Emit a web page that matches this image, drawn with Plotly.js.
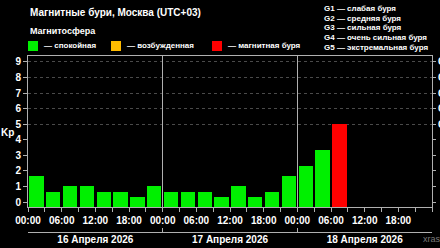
<!DOCTYPE html>
<html><head><meta charset="utf-8">
<script src="https://cdn.plot.ly/plotly-3.0.1.min.js"></script>
<style>html,body{margin:0;padding:0;background:#000;}#chart{width:440px;height:248px;}</style>
</head><body><div id="chart"></div>
<script>
// ---- data ----
const barTimes = [
  '2026-04-16 01:30','2026-04-16 04:30','2026-04-16 07:30','2026-04-16 10:30',
  '2026-04-16 13:30','2026-04-16 16:30','2026-04-16 19:30','2026-04-16 22:30',
  '2026-04-17 01:30','2026-04-17 04:30','2026-04-17 07:30','2026-04-17 10:30',
  '2026-04-17 13:30','2026-04-17 16:30','2026-04-17 19:30','2026-04-17 22:30',
  '2026-04-18 01:30','2026-04-18 04:30','2026-04-18 07:30'
];
const kpValues = [1.67,0.67,1,1,0.67,0.67,0.33,1, 0.67,0.67,0.67,0.33,1,0.33,0.67,1.67, 2.33,3.33,5];
const dayStarts = ['2026-04-16 00:00','2026-04-17 00:00','2026-04-18 00:00','2026-04-19 00:00'];
const dayMiddles = ['2026-04-16 12:00','2026-04-17 12:00','2026-04-18 12:00'];
const dayLabels = ['16 Апреля 2026','17 Апреля 2026','18 Апреля 2026'];
const kpTicks = [0,1,2,3,4,5,6,7,8,9];
const stormLevels = [5,6,7,8,9];
const stormLabels = ['G1','G2','G3','G4','G5'];
const stormNames = ['G1 — слабая буря','G2 — средняя буря','G3 — сильная буря','G4 — очень сильная буря','G5 — экстремальная буря'];
const legendNames = ['— спокойная','— возбужденная','— магнитная буря'];
const legendColors = ['#00f000','#ffbb00','#ff0000'];
const titleText = 'Магнитные бури, Москва (UTC+03)';
const subtitleText = 'Магнитосфера';

// ---- styling ----
const FONT = '"Liberation Sans", Arial, sans-serif';
const Y_MIN = -0.32, Y_MAX = 9.38;
const X_RANGE = [dayStarts[0], dayStarts[3]];
const W = 440, H = 248, ML = 28, MR = 8, MT = 56, MB = 16;
const PW = W - ML - MR, PH = H - MT - MB;
const PX = x => (x - ML) / PW;
const PY = y => (H - MB - y) / PH;
const AXC = '#b0b0b0';
const TF = {family: FONT, size: 10, color: '#ffffff', weight: 'bold'};
const SF = {family: FONT, size: 8, color: '#ffffff', weight: 'bold'};

const colorFor = v => v >= 5 ? legendColors[2] : (v >= 4 ? legendColors[1] : legendColors[0]);

const traces = [
  {type: 'bar', x: barTimes, y: kpValues.map(v => v - Y_MIN), base: Y_MIN,
   width: 3 * 3600 * 1000 * 0.85, marker: {color: kpValues.map(colorFor), line: {width: 0}},
   xaxis: 'x', yaxis: 'y', hoverinfo: 'skip'},
  {type: 'scatter', x: [], y: [], xaxis: 'x2', yaxis: 'y', hoverinfo: 'skip'},
  {type: 'scatter', x: [], y: [], xaxis: 'x3', yaxis: 'y', hoverinfo: 'skip'},
  {type: 'scatter', x: [], y: [], xaxis: 'x', yaxis: 'y2', hoverinfo: 'skip'}
];

const annotations = [
  {text: titleText, x: PX(28), y: PY(12), xanchor: 'left', yanchor: 'middle', font: TF},
  {text: subtitleText, x: PX(28), y: PY(31), xanchor: 'left', yanchor: 'middle', font: {...TF, size: 9}},
  {text: 'Kp', x: PX(7), y: PY(132), xanchor: 'center', yanchor: 'middle', font: TF},
  {text: 'xras', x: PX(421), y: PY(239), xanchor: 'left', yanchor: 'middle', font: {...SF, size: 9, weight: 'normal', color: '#7a7a7a'}}
];
const legX = [[28, 42], [111, 125], [212, 226]];
const shapes = [];
legendNames.forEach((n, i) => {
  annotations.push({text: n, x: PX(legX[i][1]), y: PY(46), xanchor: 'left', yanchor: 'middle', font: SF});
  shapes.push({type: 'rect', xref: 'paper', yref: 'paper', x0: PX(legX[i][0]), x1: PX(legX[i][0] + 10),
    y0: PY(51), y1: PY(41), fillcolor: legendColors[i], line: {width: 0}});
});
stormNames.forEach((n, i) => {
  annotations.push({text: n, x: PX(322), y: PY(9 + i * 9.5), xanchor: 'left', yanchor: 'middle', font: SF});
});
annotations.forEach(a => { a.xref = 'paper'; a.yref = 'paper'; a.showarrow = false; });

const layout = {
  width: W, height: H, margin: {l: ML, r: MR, t: MT, b: MB},
  paper_bgcolor: '#000', plot_bgcolor: '#000', showlegend: false,
  font: {family: FONT, color: '#fff'},
  xaxis: {type: 'date', range: X_RANGE, anchor: 'y', dtick: 6 * 3600 * 1000, tick0: dayStarts[0],
    tickformat: '%H:%M', ticks: 'outside', ticklen: 4, tickcolor: AXC, tickfont: TF,
    minor: {dtick: 3 * 3600 * 1000, ticks: 'outside', ticklen: 4, tickcolor: AXC, showgrid: false},
    showgrid: false, zeroline: false, showline: true, linecolor: AXC, linewidth: 1, mirror: true},
  xaxis2: {type: 'date', range: X_RANGE, overlaying: 'x', anchor: 'free', position: 0,
    tickmode: 'array', tickvals: dayStarts, showticklabels: false, ticks: 'inside', ticklen: 4, tickcolor: AXC,
    showline: true, linecolor: AXC, showgrid: true, gridcolor: AXC, gridwidth: 1, zeroline: false},
  xaxis3: {type: 'date', range: X_RANGE, overlaying: 'x', anchor: 'free', position: 0,
    tickmode: 'array', tickvals: dayMiddles, ticktext: dayLabels, ticks: '', tickfont: TF,
    showline: false, showgrid: false, zeroline: false},
  yaxis: {range: [Y_MIN, Y_MAX], domain: [PY(207), 1], tickmode: 'array', tickvals: kpTicks,
    ticks: 'outside', ticklen: 4, tickcolor: AXC, tickfont: TF, showgrid: false, zeroline: false,
    showline: true, linecolor: AXC},
  yaxis2: {range: [Y_MIN, Y_MAX], overlaying: 'y', side: 'right', anchor: 'x', tickmode: 'array',
    tickvals: stormLevels, ticktext: stormLabels, ticks: 'outside', ticklen: 3, tickcolor: AXC, tickfont: TF,
    minor: {tickvals: kpTicks, ticks: 'outside', ticklen: 3, tickcolor: AXC, showgrid: false},
    showgrid: true, gridcolor: '#4a4a4a', griddash: 'dot', gridwidth: 1, zeroline: false,
    showline: true, linecolor: AXC},
  annotations: annotations, shapes: shapes, bargap: 0
};

Plotly.newPlot('chart', traces, layout, {staticPlot: true, displayModeBar: false});
</script></body></html>
